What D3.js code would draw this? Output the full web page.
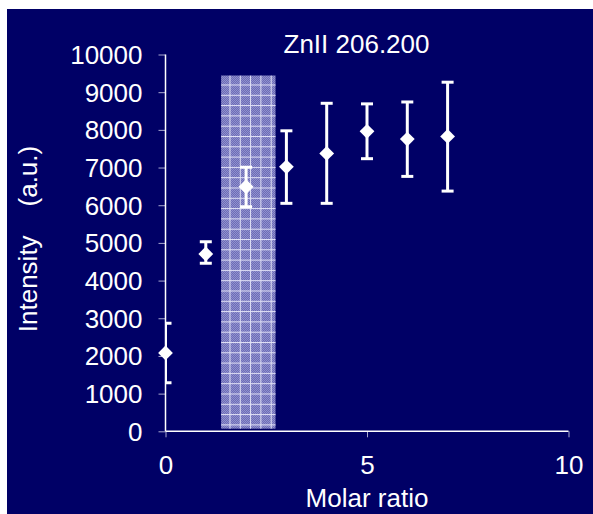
<!DOCTYPE html>
<html>
<head>
<meta charset="utf-8">
<script src="https://cdn.jsdelivr.net/npm/d3@7"></script>
<style>
  html, body { margin: 0; padding: 0; background: #ffffff; }
  svg { display: block; }
  text { font-family: "Liberation Sans", Arial, sans-serif; fill: #ffffff; }
</style>
</head>
<body>
<svg id="chart" width="593" height="514"></svg>
<script>
// Molar ratio vs. emission intensity for the Zn II 206.200 nm line
const molarRatio = [0, 1, 2, 3, 4, 5, 6, 7];
const intensity  = [2080, 4705, 6490, 7020, 7375, 7960, 7755, 7825];
const errLow     = [1290, 4458, 5960, 6050, 6050, 7235, 6765, 6375];
const errHigh    = [2865, 5030, 7005, 7975, 8705, 8690, 8740, 9265];

// shaded region on the plot (molar ratio range and intensity span)
const bandX = [1.38, 2.73];
const bandY = [70, 9440];

const xTicks = [0, 5, 10];
const yTicks = [0, 1000, 2000, 3000, 4000, 5000, 6000, 7000, 8000, 9000, 10000];

const chartTitle = "ZnII 206.200";
const xTitle = "Molar ratio";
const yTitle = "Intensity    (a.u.)";

const svg = d3.select("#chart");
const navy = "#000066";

svg.append("rect")
  .attr("x", 7).attr("y", 9)
  .attr("width", 586).attr("height", 505)
  .attr("fill", navy);

const x = d3.scaleLinear().domain([0, 10]).range([165.5, 568.5]);
const y = d3.scaleLinear().domain([0, 10000]).range([431.3, 54.5]);

// fill patterns for the shaded band: fine checker texture + light grid
const defs = svg.append("defs");
const checker = defs.append("pattern")
  .attr("id", "checker")
  .attr("patternUnits", "userSpaceOnUse")
  .attr("width", 2).attr("height", 2);
checker.append("rect").attr("width", 2).attr("height", 2).attr("fill", "#6c6cb6");
checker.append("rect").attr("width", 1).attr("height", 1).attr("fill", "#9090ce");
checker.append("rect").attr("x", 1).attr("y", 1).attr("width", 1).attr("height", 1).attr("fill", "#9090ce");

const grid = defs.append("pattern")
  .attr("id", "grid")
  .attr("patternUnits", "userSpaceOnUse")
  .attr("x", 229.5).attr("y", 84.5)
  .attr("width", 10.3).attr("height", 10.3);
grid.append("rect").attr("x", 0).attr("y", 0).attr("width", 10.3).attr("height", 1).attr("fill", "#e2e2f6");
grid.append("rect").attr("x", 0).attr("y", 0).attr("width", 1).attr("height", 10.3).attr("fill", "#e2e2f6");

const bx = x(bandX[0]), bw = x(bandX[1]) - x(bandX[0]);
const by = y(bandY[1]), bh = y(bandY[0]) - y(bandY[1]);
svg.append("rect").attr("x", bx).attr("y", by).attr("width", bw).attr("height", bh)
  .attr("fill", "url(#checker)");
svg.append("rect").attr("x", bx).attr("y", by).attr("width", bw).attr("height", bh)
  .attr("fill", "url(#grid)");

// axes
const fontSize = 26;
const xAxis = d3.axisBottom(x).tickValues(xTicks).tickSize(6).tickPadding(18).tickFormat(d3.format("d"));
const yAxis = d3.axisLeft(y).tickValues(yTicks).tickSize(7).tickPadding(16).tickFormat(d3.format("d"));

const gx = svg.append("g").attr("transform", `translate(0,${y(0)})`).call(xAxis);
const gy = svg.append("g").attr("transform", `translate(${x(0)},0)`).call(yAxis);

[gx, gy].forEach(g => {
  g.select(".domain").remove();
  g.selectAll(".tick line").attr("stroke", "#a8a8d0").attr("stroke-width", 1);
  g.selectAll(".tick text")
    .attr("fill", "#ffffff")
    .style("font-size", fontSize + "px")
    .style("font-family", "'Liberation Sans', Arial, sans-serif");
});
gy.selectAll(".tick text").attr("dy", "0.34em");

svg.append("line")
  .attr("x1", x(0)).attr("x2", x(10))
  .attr("y1", y(0)).attr("y2", y(0))
  .attr("stroke", "#ffffff").attr("stroke-width", 1.5);
svg.append("line")
  .attr("x1", x(0)).attr("x2", x(0))
  .attr("y1", y(0)).attr("y2", y(10000))
  .attr("stroke", "#ffffff").attr("stroke-width", 1.5);

// error bars, clipped to the plot area
defs.append("clipPath").attr("id", "plotClip")
  .append("rect")
  .attr("x", x(0)).attr("y", 0)
  .attr("width", x(10) - x(0) + 20).attr("height", y(0));

const eb = svg.append("g").attr("clip-path", "url(#plotClip)");
const capHalf = 6;
molarRatio.forEach((m, i) => {
  const cx = x(m);
  eb.append("line")
    .attr("x1", cx).attr("x2", cx)
    .attr("y1", y(errLow[i])).attr("y2", y(errHigh[i]))
    .attr("stroke", "#ffffff").attr("stroke-width", 3);
  [errLow[i], errHigh[i]].forEach(v => {
    eb.append("line")
      .attr("x1", cx - capHalf).attr("x2", cx + capHalf)
      .attr("y1", y(v)).attr("y2", y(v))
      .attr("stroke", "#ffffff").attr("stroke-width", 3);
  });
});

// diamond markers
const dw = 7.4, dh = 7.4;
svg.append("g").selectAll("path")
  .data(molarRatio)
  .join("path")
  .attr("d", (m, i) => {
    const cx = x(m), cy = y(intensity[i]);
    return `M${cx},${cy - dh}L${cx + dw},${cy}L${cx},${cy + dh}L${cx - dw},${cy}Z`;
  })
  .attr("fill", "#ffffff");

// titles
svg.append("text")
  .attr("x", 356.5).attr("y", 53)
  .attr("text-anchor", "middle")
  .style("font-size", fontSize + "px")
  .text(chartTitle);

svg.append("text")
  .attr("x", (x(0) + x(10)) / 2).attr("y", 507)
  .attr("text-anchor", "middle")
  .style("font-size", fontSize + "px")
  .text(xTitle);

svg.append("text")
  .attr("transform", "translate(37,239) rotate(-90)")
  .attr("text-anchor", "middle")
  .style("font-size", fontSize + "px")
  .style("white-space", "pre")
  .text(yTitle);
</script>
</body>
</html>
